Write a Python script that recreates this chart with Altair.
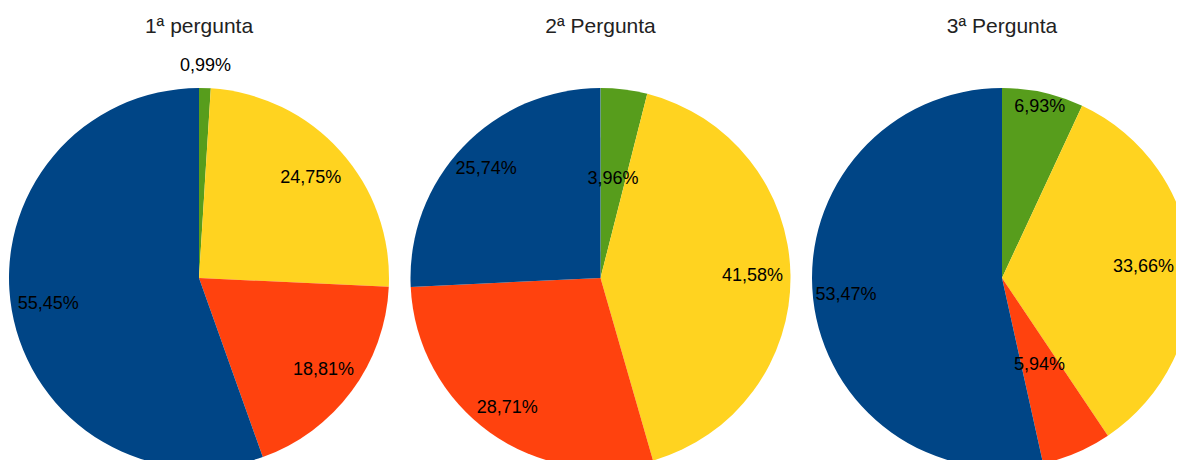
import altair as alt
import pandas as pd

# ---- data ----
pies = ["1ª pergunta", "2ª Pergunta", "3ª Pergunta"]
categories = ["Verde", "Amarelo", "Vermelho", "Azul"]
values_p1 = [0.99, 24.75, 18.81, 55.45]
values_p2 = [3.96, 41.58, 28.71, 25.74]
values_p3 = [6.93, 33.66, 5.94, 53.47]
all_values = [values_p1, values_p2, values_p3]

# ---- style ----
colors = ["#579D1C", "#FFD320", "#FF420E", "#004586"]
label_radii = [[212, 150, 155, 153], [100, 152, 160, 158], [175, 142, 95, 157]]
pie_x_range = [191, 994]   # pixel centres of first and last pie
center_y = 270
title_y = 19
pie_radius = 190
FONT = "Liberation Sans"

rows = []
for i, name in enumerate(pies):
    for j, cat in enumerate(categories):
        rows.append({"pie": name, "idx": i, "cat": cat, "value": all_values[i][j],
                     "order": j, "lr": label_radii[i][j]})
df = pd.DataFrame(rows)
titles_df = pd.DataFrame({"pie": pies, "idx": list(range(len(pies)))})

x_enc = alt.X("idx:Q", stack=None,
              scale=alt.Scale(domain=[0, len(pies) - 1], range=pie_x_range), axis=None)
theta_scale = alt.Scale(domain=[0, 100], range=[0, 6.283185307179586])

base = alt.Chart(df).transform_stack(
    stack="value", as_=["v0", "v1"], groupby=["pie"], sort=[alt.SortField("order", order="ascending")]
).transform_calculate(
    mid="(datum.v0 + datum.v1) / 2",
    label="replace(format(datum.value, '.2f'), '.', ',') + '%'",
).encode(
    x=x_enc,
    y=alt.value(center_y),
)

arcs = base.mark_arc(radius=pie_radius).encode(
    theta=alt.Theta("v0:Q", stack=None, scale=theta_scale),
    theta2="v1:Q",
    color=alt.Color("cat:N", scale=alt.Scale(domain=categories, range=colors), legend=None),
    detail="pie:N",
)

labels = base.mark_text(font=FONT, fontSize=18, color="#000000").encode(
    theta=alt.Theta("mid:Q", stack=None, scale=theta_scale),
    radius=alt.Radius("lr:Q", scale=None),
    text="label:N",
)

titles = alt.Chart(titles_df).mark_text(
    font=FONT, fontSize=21, color="#222222", baseline="middle"
).encode(
    x=x_enc,
    y=alt.value(title_y),
    text="pie:N",
)

chart = alt.layer(arcs, labels, titles).properties(
    width=1168,
    height=452,
    padding=0,
    autosize=alt.AutoSizeParams(type="none"),
).configure_view(stroke=None)
chart.save("out.html", embed_options={"renderer": "svg", "actions": False})
